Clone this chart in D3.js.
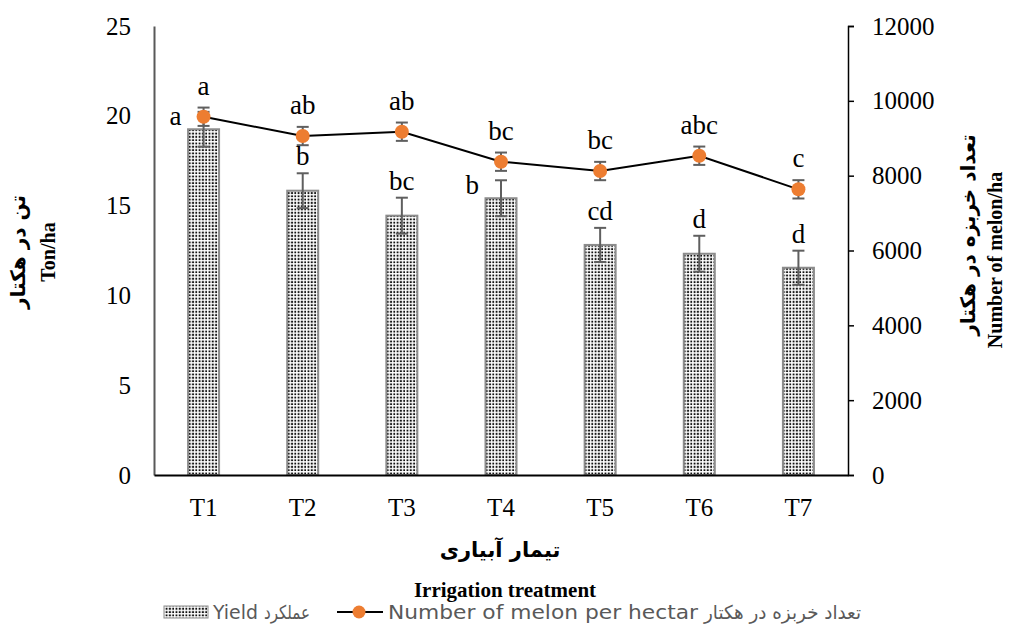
<!DOCTYPE html>
<html>
<head>
<meta charset="utf-8">
<script src="https://cdn.jsdelivr.net/npm/d3@7"></script>
<style>
  body { margin: 0; background: #fff; }
  svg { display: block; }
</style>
</head>
<body>
<div id="chart"></div>
<script>
// Yield (ton/ha) bars + number of melons per hectare (line), by irrigation treatment
const categories = ['T1', 'T2', 'T3', 'T4', 'T5', 'T6', 'T7'];
const yieldValues = [19.25, 15.83, 14.44, 15.41, 12.81, 12.32, 11.54];
const yieldErrors = [0.97, 0.97, 1.0, 1.0, 0.95, 1.0, 0.95];
const yieldLetters = ['a', 'b', 'bc', 'b', 'cd', 'd', 'd'];
const melonValues = [9575, 9059, 9175, 8373, 8124, 8533, 7635];
const melonErrors = [245, 245, 245, 245, 245, 245, 245];
const melonLetters = ['a', 'ab', 'ab', 'bc', 'bc', 'abc', 'c'];
const leftTicks = [0, 5, 10, 15, 20, 25];
const rightTicks = [0, 2000, 4000, 6000, 8000, 10000, 12000];

const W = 1013, H = 625;
const plotL = 154, plotR = 848, plotT = 26, plotB = 475;
const serif = '"Liberation Serif", "Times New Roman", serif';
const persian = '"DejaVu Sans", sans-serif';
const legendFont = '"DejaVu Sans", "Open Sans", sans-serif';

const svg = d3.select('#chart').append('svg')
  .attr('width', W).attr('height', H);

// dotted fill pattern
const defs = svg.append('defs');
const pat = defs.append('pattern')
  .attr('id', 'dots')
  .attr('patternUnits', 'userSpaceOnUse')
  .attr('width', 3.3).attr('height', 3.3);
pat.append('rect').attr('width', 3.3).attr('height', 3.3).attr('fill', '#fff');
pat.append('rect').attr('x', 0.6).attr('y', 0.6).attr('width', 1.9).attr('height', 1.9).attr('fill', '#111');

const x = d3.scaleBand().domain(categories).range([plotL, plotR]).padding(0);
const yL = d3.scaleLinear().domain([0, 25]).range([plotB, plotT]);
const yR = d3.scaleLinear().domain([0, 12000]).range([plotB, plotT]);
const barW = 31;
const cx = c => x(c) + x.bandwidth() / 2;

// bars
svg.append('g').selectAll('rect')
  .data(categories)
  .join('rect')
  .attr('x', d => cx(d) - barW / 2)
  .attr('y', (d, i) => yL(yieldValues[i]))
  .attr('width', barW)
  .attr('height', (d, i) => yL(0) - yL(yieldValues[i]))
  .attr('fill', 'url(#dots)')
  .attr('stroke', '#8c8c8c')
  .attr('stroke-width', 2);

// error bars helper
function errorBars(g, scale, vals, errs, cap, color) {
  categories.forEach((c, i) => {
    const xx = cx(c);
    const y1 = scale(vals[i] + errs[i]), y2 = scale(vals[i] - errs[i]);
    g.append('line').attr('x1', xx).attr('x2', xx).attr('y1', y1).attr('y2', y2);
    g.append('line').attr('x1', xx - cap).attr('x2', xx + cap).attr('y1', y1).attr('y2', y1);
    g.append('line').attr('x1', xx - cap).attr('x2', xx + cap).attr('y1', y2).attr('y2', y2);
  });
  g.attr('stroke', color).attr('stroke-width', 2);
}
errorBars(svg.append('g'), yL, yieldValues, yieldErrors, 6, '#5f5f5f');

// axes
const gl = svg.append('g').attr('transform', `translate(${plotL},0)`)
  .call(d3.axisLeft(yL).tickValues(leftTicks).tickSize(0).tickPadding(23));
gl.select('.domain').attr('stroke', '#595959').attr('stroke-width', 2);
gl.selectAll('text').attr('font-family', serif).attr('font-size', 25).attr('fill', '#000');

const gr = svg.append('g').attr('transform', `translate(${plotR},0)`)
  .call(d3.axisRight(yR).tickValues(rightTicks).tickFormat(d3.format('d'))
    .tickSize(6).tickSizeOuter(6).tickPadding(18));
gr.select('.domain').attr('stroke', '#000').attr('stroke-width', 1.5);
gr.selectAll('.tick line').attr('stroke', '#000').attr('stroke-width', 1.5);
gr.selectAll('text').attr('font-family', serif).attr('font-size', 25).attr('fill', '#000');

const gb = svg.append('g').attr('transform', `translate(0,${plotB})`)
  .call(d3.axisBottom(x).tickSize(0).tickPadding(23));
gb.select('.domain').attr('stroke', '#000').attr('stroke-width', 2);
gb.selectAll('text').attr('font-family', serif).attr('font-size', 25).attr('fill', '#000');

// line
const line = d3.line().x((d, i) => cx(categories[i])).y(d => yR(d));
svg.append('path').datum(melonValues)
  .attr('d', line).attr('fill', 'none').attr('stroke', '#000').attr('stroke-width', 2);
errorBars(svg.append('g'), yR, melonValues, melonErrors, 6, '#5f5f5f');
svg.append('g').selectAll('circle')
  .data(melonValues)
  .join('circle')
  .attr('cx', (d, i) => cx(categories[i]))
  .attr('cy', d => yR(d))
  .attr('r', 7)
  .attr('fill', '#ED7D31');

// significance letters
const lbl = svg.append('g').attr('font-family', serif).attr('font-size', 27).attr('fill', '#000');
melonLetters.forEach((t, i) => {
  lbl.append('text').attr('x', cx(categories[i])).attr('y', yR(melonValues[i]) - 22)
    .attr('text-anchor', 'middle').text(t);
});
yieldLetters.forEach((t, i) => {
  const capY = yL(yieldValues[i] + yieldErrors[i]);
  const ty = capY - 8;
  const py = yR(melonValues[i]);
  if (Math.abs(ty - py) < 28) {
    // collides with line point: put it beside the bar
    lbl.append('text').attr('x', cx(categories[i]) - 22).attr('y', yL(yieldValues[i]) - 4)
      .attr('text-anchor', 'end').text(t);
  } else {
    lbl.append('text').attr('x', cx(categories[i])).attr('y', ty)
      .attr('text-anchor', 'middle').text(t);
  }
});

// axis titles
const tl = svg.append('g').attr('transform', 'translate(0,252) rotate(-90)')
  .attr('text-anchor', 'middle').attr('font-weight', 'bold');
tl.append('text').attr('y', 25).attr('font-family', persian).attr('font-size', 20).text('تن در هکتار');
tl.append('text').attr('y', 55).attr('font-family', serif).attr('font-size', 20).text('Ton/ha');

const tr = svg.append('g').attr('transform', 'translate(0,0) rotate(-90)')
  .attr('font-weight', 'bold').attr('text-anchor', 'middle');
tr.append('text').attr('x', -235).attr('y', 975).attr('font-family', persian).attr('font-size', 20)
  .text('تعداد خربزه در هکتار');
tr.append('text').attr('x', -260).attr('y', 1002).attr('font-family', serif).attr('font-size', 20)
  .text('Number of melon/ha');

svg.append('text').attr('x', 500).attr('y', 557).attr('text-anchor', 'middle')
  .attr('font-family', persian).attr('font-weight', 'bold').attr('font-size', 21)
  .text('تیمار آبیاری');
svg.append('text').attr('x', 505).attr('y', 597).attr('text-anchor', 'middle')
  .attr('font-family', serif).attr('font-weight', 'bold').attr('font-size', 21)
  .text('Irrigation treatment');

// legend
const lg = svg.append('g').attr('font-family', legendFont).attr('font-size', 19).attr('fill', '#595959');
lg.append('rect').attr('x', 164).attr('y', 606).attr('width', 44).attr('height', 12)
  .attr('fill', 'url(#dots)').attr('stroke', '#8c8c8c').attr('stroke-width', 1);
lg.append('text').attr('x', 213).attr('y', 619).attr('textLength', 45)
  .attr('lengthAdjust', 'spacingAndGlyphs').text('Yield');
lg.append('text').attr('x', 264).attr('y', 619).attr('font-family', persian)
  .attr('textLength', 46).attr('lengthAdjust', 'spacingAndGlyphs').text('عملکرد');
lg.append('line').attr('x1', 337).attr('x2', 383).attr('y1', 612).attr('y2', 612)
  .attr('stroke', '#000').attr('stroke-width', 2);
lg.append('circle').attr('cx', 359).attr('cy', 612).attr('r', 6.5).attr('fill', '#ED7D31');
lg.append('text').attr('x', 388).attr('y', 619).attr('textLength', 310)
  .attr('lengthAdjust', 'spacingAndGlyphs').text('Number of melon per hectar');
lg.append('text').attr('x', 704).attr('y', 619).attr('font-family', persian)
  .attr('textLength', 157).attr('lengthAdjust', 'spacingAndGlyphs').text('تعداد خربزه در هکتار');
</script>
</body>
</html>
